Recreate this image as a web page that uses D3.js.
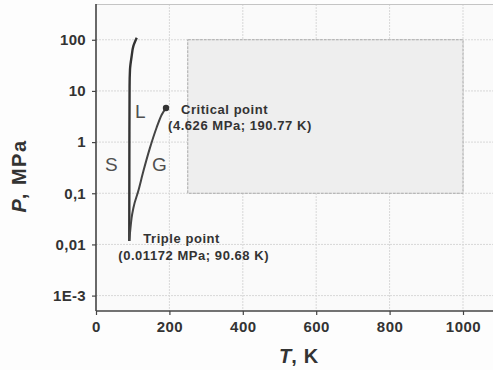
<!DOCTYPE html>
<html>
<head>
<meta charset="utf-8">
<script src="https://d3js.org/d3.v7.min.js"></script>
<style>
  body { margin: 0; background: #fdfdfd; }
  svg { display: block; font-family: "Liberation Sans", Arial, sans-serif; }
  .tick text { font-weight: bold; fill: #333; }
</style>
</head>
<body>
<div id="chart"></div>
<script>
// melting line (S-L)
var meltT = [90.68, 90.8, 91, 91.5, 92.6, 97, 101.6, 111];
var meltP = [0.01172, 0.1, 1, 12, 26, 47, 74, 109];
// vapour line (L-G), triple point -> critical point
var vapT = [90.68, 97, 102, 115, 129, 147, 165, 179, 190.77];
var vapP = [0.01172, 0.033, 0.052, 0.109, 0.268, 0.77, 1.91, 3.43, 4.626];

var xTicks = [0, 200, 400, 600, 800, 1000];
var yTicks = [1e-3, 0.01, 0.1, 1, 10, 100];
var yTickLabels = ["1E-3", "0,01", "0,1", "1", "10", "100"];

var triple = {T: 90.68, P: 0.01172};
var critical = {T: 190.77, P: 4.626};
// empty grey box in the upper right
var box = {T0: 250, T1: 1000, P0: 0.1, P1: 100};

var W = 493, H = 370;
var plotL = 96, plotT = 4, plotB = 311;

var svg = d3.select("#chart").append("svg")
  .attr("width", W).attr("height", H);

var x = d3.scaleLinear().domain([0, 1100]).range([plotL, plotL + 5.5 * 73.4]);
var y = d3.scaleLog().domain([5e-4, 500]).range([plotB, plotT]);

svg.append("rect")
  .attr("x", plotL).attr("y", plotT)
  .attr("width", W - plotL).attr("height", plotB - plotT)
  .attr("fill", "#fafafa");

// grid
svg.append("g").selectAll("line").data(yTicks).enter().append("line")
  .attr("x1", plotL).attr("x2", W)
  .attr("y1", function(d) { return y(d); })
  .attr("y2", function(d) { return y(d); })
  .attr("stroke", "#d8d8d8").attr("stroke-width", 1)
  .attr("stroke-dasharray", "2,1");
svg.append("g").selectAll("line").data(xTicks.slice(1)).enter().append("line")
  .attr("y1", plotT).attr("y2", plotB)
  .attr("x1", function(d) { return x(d); })
  .attr("x2", function(d) { return x(d); })
  .attr("stroke", "#d8d8d8").attr("stroke-width", 1)
  .attr("stroke-dasharray", "2,1");
svg.append("line")
  .attr("x1", plotL).attr("x2", W).attr("y1", plotT + 0.5).attr("y2", plotT + 0.5)
  .attr("stroke", "#c4c4c4");

// grey box
svg.append("rect")
  .attr("x", x(box.T0)).attr("y", y(box.P1))
  .attr("width", x(box.T1) - x(box.T0))
  .attr("height", y(box.P0) - y(box.P1))
  .attr("fill", "#eeeeee")
  .attr("stroke", "#a8a8a8").attr("stroke-width", 1)
  .attr("stroke-dasharray", "3,1");

// axes
var xAxis = d3.axisBottom(x).tickValues(xTicks).tickSize(4).tickPadding(6)
  .tickFormat(d3.format("d"));
var gx = svg.append("g").attr("transform", "translate(0," + plotB + ")").call(xAxis);
gx.selectAll("text").style("font-size", "15px").style("letter-spacing", "0.5px");

var yAxis = d3.axisLeft(y).tickValues(yTicks).tickSize(4).tickPadding(6)
  .tickFormat(function(d, i) { return yTickLabels[i]; });
var gy = svg.append("g").attr("transform", "translate(" + plotL + ",0)").call(yAxis);
gy.selectAll("text").style("font-size", "15px").style("letter-spacing", "0.3px");

[gx, gy].forEach(function(g) {
  g.select(".domain").attr("stroke", "#444").attr("stroke-width", 1.6);
  g.selectAll(".tick line").attr("stroke", "#444").attr("stroke-width", 1.2);
});
gx.select(".domain").attr("d", "M" + plotL + ",0H" + W);
gy.select(".domain").attr("d", "M0," + plotT + "V" + plotB);

// curves
var melt = meltT.map(function(t, i) { return [t, meltP[i]]; });
var vap = vapT.map(function(t, i) { return [t, vapP[i]]; });

var lineY = d3.line()
  .x(function(d) { return x(d[0]); })
  .y(function(d) { return y(d[1]); })
  .curve(d3.curveMonotoneY);
var lineX = d3.line()
  .x(function(d) { return x(d[0]); })
  .y(function(d) { return y(d[1]); })
  .curve(d3.curveMonotoneX);

svg.append("path").attr("d", lineY(melt))
  .attr("fill", "none").attr("stroke", "#333").attr("stroke-width", 2.4);
svg.append("path").attr("d", lineX(vap))
  .attr("fill", "none").attr("stroke", "#444").attr("stroke-width", 2);

svg.append("circle")
  .attr("cx", x(critical.T)).attr("cy", y(critical.P)).attr("r", 3.2)
  .attr("fill", "#333");

// phase labels
var phase = [["S", 105, 171], ["L", 135, 118], ["G", 152, 171]];
svg.selectAll(".phase").data(phase).enter().append("text")
  .attr("class", "phase")
  .attr("x", function(d) { return d[1]; })
  .attr("y", function(d) { return d[2]; })
  .style("font-size", "19px").attr("fill", "#505050")
  .text(function(d) { return d[0]; });

// annotations
function note(tx, ty, str) {
  svg.append("text").attr("x", tx).attr("y", ty)
    .style("font-size", "13px").style("font-weight", "bold")
    .style("letter-spacing", "0.55px").attr("fill", "#333")
    .text(str);
}
note(x(critical.T) + 15, y(critical.P) + 5.5, "Critical point");
note(x(critical.T) + 2, y(critical.P) + 22, "(" + critical.P.toFixed(3) + " MPa; " + critical.T + " K)");
note(x(triple.T) + 14, y(triple.P) + 2, "Triple point");
note(x(triple.T) - 11, y(triple.P) + 19, "(" + triple.P + " MPa; " + triple.T + " K)");

// axis titles
var xt = svg.append("text").attr("x", 299).attr("y", 363)
  .attr("text-anchor", "middle").style("font-size", "20px")
  .style("font-weight", "bold").attr("fill", "#333");
xt.append("tspan").style("font-style", "italic").text("T");
xt.append("tspan").style("letter-spacing", "0.8px").text(", K");

var yt = svg.append("text")
  .attr("transform", "translate(26,176) rotate(-90)")
  .attr("text-anchor", "middle").style("font-size", "20px")
  .style("font-weight", "bold").attr("fill", "#333");
yt.append("tspan").style("font-style", "italic").text("P");
yt.append("tspan").style("letter-spacing", "1.5px").text(", MPa");
</script>
</body>
</html>
